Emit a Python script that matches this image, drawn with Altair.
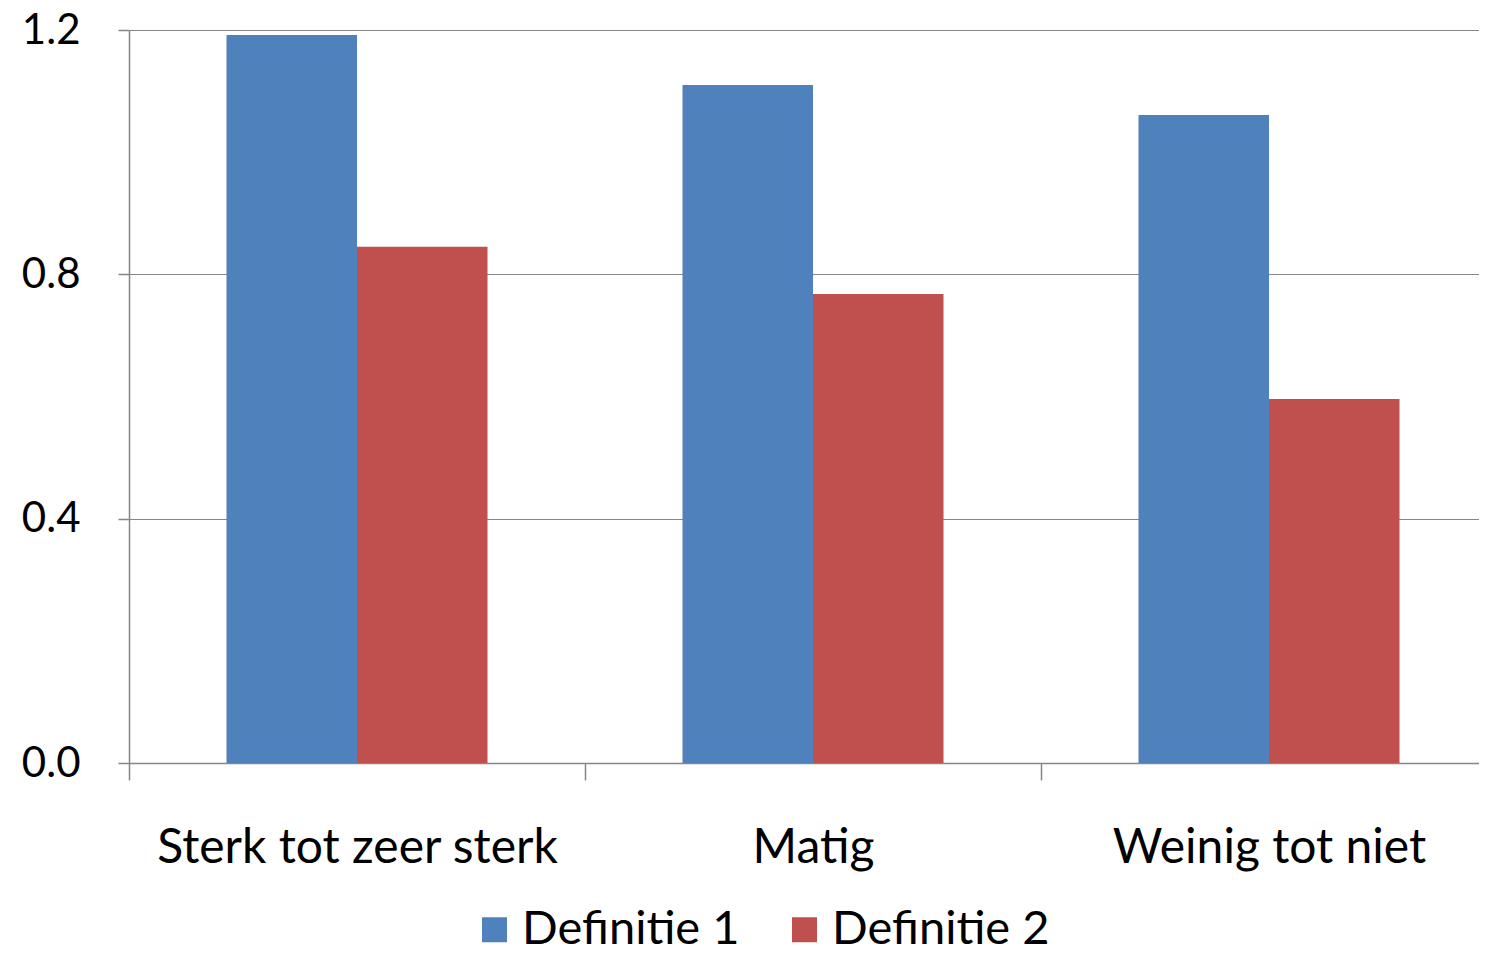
import altair as alt
import pandas as pd

categories = ["Sterk tot zeer sterk", "Matig", "Weinig tot niet"]
series = ["Definitie 1", "Definitie 2"]
def1 = [1.192, 1.110, 1.061]
def2 = [0.845, 0.768, 0.596]
colors = ["#4F81BD", "#C0504D"]
y_ticks = [0.0, 0.4, 0.8, 1.2]

rows = []
for c, a, b in zip(categories, def1, def2):
    rows.append({"cat": c, "serie": series[0], "value": a})
    rows.append({"cat": c, "serie": series[1], "value": b})
df = pd.DataFrame(rows)

FONT = "Lato"
GRAY = "#868686"

chart = alt.Chart(df).mark_bar().encode(
    x=alt.X("cat:N", sort=categories, title=None,
            scale=alt.Scale(paddingInner=0, paddingOuter=0, range=[0, 1368]),
            axis=alt.Axis(labelAngle=0, labelFontSize=48, labelFont=FONT,
                          labelColor="black", labelPadding=44, labelLimit=0,
                          tickBand="extent", tickSize=17, tickColor=GRAY,
                          domainColor=GRAY, domainWidth=1.5, tickWidth=1.5,
                          grid=False)),
    xOffset=alt.XOffset("serie:N", sort=series,
                        scale=alt.Scale(paddingInner=0, paddingOuter=0.747)),
    y=alt.Y("value:Q", title=None,
            scale=alt.Scale(domain=[0, 1.2], nice=False),
            axis=alt.Axis(values=y_ticks, format=".1f", labelFontSize=42,
                          labelFont=FONT, labelColor="black", labelPadding=38,
                          labelLimit=0,
                          tickSize=11, tickColor=GRAY, domainColor=GRAY,
                          domainWidth=1.5, tickWidth=1.5,
                          gridColor=GRAY, gridWidth=1.2)),
    color=alt.Color("serie:N", sort=series,
                    scale=alt.Scale(domain=series, range=colors),
                    legend=alt.Legend(title=None, orient="none",
                                      direction="horizontal",
                                      legendX=342, legendY=876,
                                      symbolType="square", symbolSize=625,
                                      symbolStrokeWidth=0, labelLimit=0,
                                      labelFontSize=47, labelFont=FONT,
                                      labelColor="black", labelOffset=4,
                                      columnPadding=41)),
).properties(
    width=1350, height=733,
    autosize=alt.AutoSizeParams(type="none"),
    padding={"left": 121, "top": 22, "right": 0, "bottom": 183},
).configure_view(stroke=None)

chart.save("out.html", embed_options={"renderer": "svg", "actions": False})
